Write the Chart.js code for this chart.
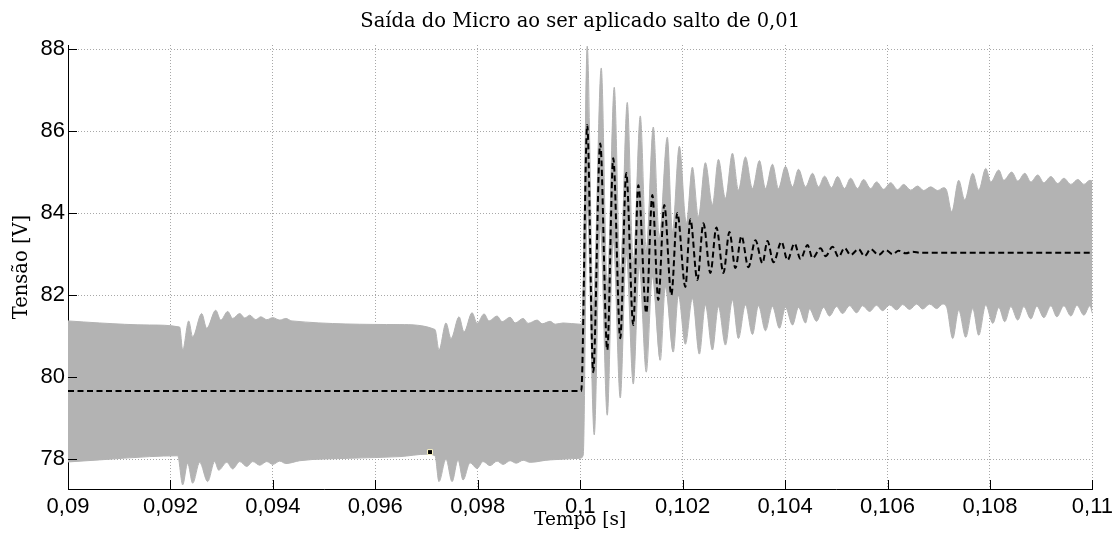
<!DOCTYPE html>
<html>
<head>
<meta charset="utf-8">
<script src="https://cdn.jsdelivr.net/npm/chart.js@4.4.0/dist/chart.umd.min.js"></script>
<style>
  html, body { margin: 0; padding: 0; background: #fff; }
  #wrap { width: 1118px; height: 543px; }
</style>
</head>
<body>
<div id="wrap"><canvas id="chart" width="1118" height="543"></canvas></div>
<script>
// Tick labels
const xTicks = [0.09, 0.092, 0.094, 0.096, 0.098, 0.1, 0.102, 0.104, 0.106, 0.108, 0.11];
const yTicks = [78, 80, 82, 84, 86, 88];

// Upper envelope of the gray band (time in s, voltage in V)
const tUpper = [
    0.09, 0.090616, 0.091593, 0.09218, 0.092239, 0.092356, 0.092434, 0.09261, 0.092708,
    0.092884, 0.092982, 0.093118, 0.093216, 0.093353, 0.093451, 0.093548, 0.093666, 0.093764,
    0.093881, 0.093998, 0.094135, 0.094252, 0.09437, 0.096481, 0.097165, 0.097243, 0.09738,
    0.097478, 0.097634, 0.097732, 0.097889, 0.097986, 0.098123, 0.098221, 0.098377, 0.098475,
    0.098631, 0.098729, 0.098886, 0.098983, 0.099159, 0.099257, 0.099413, 0.099511, 0.099668,
    0.1, 0.100039, 0.100137, 0.100254, 0.100411, 0.100528, 0.100665, 0.100782, 0.100919,
    0.101036, 0.101173, 0.10129, 0.101427, 0.101544, 0.101701, 0.101799, 0.101935, 0.102072,
    0.10219, 0.102307, 0.102444, 0.102581, 0.102698, 0.102835, 0.102972, 0.103089, 0.103226,
    0.103363, 0.103499, 0.103617, 0.103754, 0.103871, 0.104008, 0.104145, 0.104262, 0.104399,
    0.104536, 0.104653, 0.10477, 0.104907, 0.105024, 0.105161, 0.105279, 0.105415, 0.105533,
    0.10567, 0.105787, 0.105924, 0.106061, 0.106197, 0.106315, 0.106452, 0.106588, 0.106706,
    0.106843, 0.106979, 0.107097, 0.107155, 0.107253, 0.10739, 0.107507, 0.107664, 0.107781,
    0.107918, 0.108016, 0.108172, 0.10827, 0.108426, 0.108543, 0.10868, 0.108798, 0.108934,
    0.109052, 0.109189, 0.109325, 0.109443, 0.10958, 0.109716, 0.109834, 0.109951, 0.11
];
const vUpper = [
    81.37, 81.32, 81.27, 81.22, 80.66, 81.37, 80.98, 81.55, 81.19,
    81.63, 81.39, 81.60, 81.43, 81.55, 81.44, 81.51, 81.40, 81.47,
    81.40, 81.45, 81.39, 81.43, 81.37, 81.28, 81.16, 80.66, 81.32,
    80.94, 81.47, 81.10, 81.57, 81.31, 81.54, 81.37, 81.49, 81.35,
    81.46, 81.32, 81.43, 81.31, 81.39, 81.30, 81.36, 81.29, 81.32,
    81.29, 81.29, 88.07, 81.70, 87.54, 82.20, 87.07, 82.50, 86.70,
    82.80, 86.37, 83.10, 86.10, 83.40, 85.85, 83.55, 85.63, 83.75,
    85.12, 83.91, 85.23, 84.20, 85.31, 84.36, 85.46, 84.56, 85.37,
    84.60, 85.28, 84.60, 85.19, 84.60, 85.14, 84.64, 85.07, 84.64,
    84.97, 84.64, 84.90, 84.62, 84.89, 84.60, 84.85, 84.60, 84.82,
    84.60, 84.76, 84.58, 84.74, 84.57, 84.70, 84.56, 84.66, 84.55,
    84.64, 84.55, 84.62, 84.55, 84.03, 84.80, 84.32, 84.97, 84.56,
    85.09, 84.76, 85.05, 84.80, 85.00, 84.78, 84.97, 84.76, 84.93,
    84.74, 84.89, 84.72, 84.85, 84.70, 84.82, 84.70, 84.80, 84.78
];

// Lower envelope of the gray band
const tLower = [
    0.09, 0.090616, 0.091593, 0.092141, 0.092239, 0.092336, 0.092434, 0.092571, 0.092727,
    0.092864, 0.092942, 0.093099, 0.093216, 0.093353, 0.09349, 0.093607, 0.093744, 0.093881,
    0.093998, 0.094135, 0.094252, 0.094526, 0.095503, 0.096481, 0.097009, 0.097165, 0.097243,
    0.09738, 0.097498, 0.097615, 0.097713, 0.097849, 0.097986, 0.098104, 0.09824, 0.098377,
    0.098495, 0.098631, 0.098749, 0.098886, 0.099022, 0.099413, 0.1, 0.100059, 0.100137,
    0.100274, 0.100391, 0.100528, 0.100645, 0.100782, 0.100899, 0.101036, 0.101153, 0.10129,
    0.101408, 0.101564, 0.101662, 0.101818, 0.101916, 0.102053, 0.10219, 0.102326, 0.102444,
    0.102581, 0.102698, 0.102835, 0.102972, 0.103089, 0.103226, 0.103363, 0.10348, 0.103617,
    0.103754, 0.10389, 0.104008, 0.104145, 0.104262, 0.104399, 0.104477, 0.104614, 0.104751,
    0.104868, 0.105005, 0.105122, 0.105259, 0.105396, 0.105513, 0.10565, 0.105787, 0.105904,
    0.106041, 0.106178, 0.106295, 0.106432, 0.106569, 0.106686, 0.106823, 0.10696, 0.107077,
    0.107155, 0.107273, 0.10739, 0.107527, 0.107664, 0.107781, 0.107918, 0.108055, 0.108172,
    0.108289, 0.108407, 0.108543, 0.108661, 0.108798, 0.108915, 0.109052, 0.109189, 0.109306,
    0.109443, 0.10958, 0.109697, 0.109834, 0.109951, 0.11
];
const vLower = [
    77.93, 77.98, 78.06, 78.08, 77.37, 77.90, 77.41, 77.92, 77.45,
    77.94, 77.73, 77.92, 77.76, 77.94, 77.82, 77.94, 77.85, 77.94,
    77.87, 77.95, 77.89, 77.96, 78.02, 78.06, 78.12, 78.08, 77.45,
    78.00, 77.45, 77.98, 77.49, 77.91, 77.77, 77.94, 77.84, 77.95,
    77.87, 77.96, 77.90, 77.97, 77.92, 77.98, 78.02, 78.10, 84.15,
    78.59, 83.70, 79.07, 83.35, 79.49, 83.00, 79.83, 82.70, 80.12,
    82.45, 80.41, 82.20, 80.61, 82.00, 80.80, 81.92, 80.56, 81.76,
    80.66, 81.72, 80.78, 81.88, 80.94, 81.76, 81.04, 81.74, 81.13,
    81.72, 81.19, 81.70, 81.27, 81.70, 81.32, 81.66, 81.36, 81.70,
    81.49, 81.72, 81.55, 81.74, 81.57, 81.74, 81.60, 81.75, 81.62,
    81.76, 81.64, 81.77, 81.65, 81.78, 81.66, 81.78, 81.67, 81.78,
    81.70, 80.94, 81.63, 80.97, 81.67, 81.02, 81.76, 81.31, 81.70,
    81.35, 81.72, 81.39, 81.72, 81.42, 81.73, 81.45, 81.74, 81.47,
    81.74, 81.49, 81.75, 81.51, 81.74, 81.55
];

// Mean output (black dashed)
const tMean = [
    0.09, 0.10002, 0.100137, 0.100254, 0.100391, 0.100528, 0.100645, 0.100782, 0.100899, 0.101036,
    0.101134, 0.10129, 0.101408, 0.101525, 0.101642, 0.101779, 0.101896, 0.102053, 0.10215, 0.102287,
    0.102405, 0.102542, 0.102659, 0.102796, 0.102913, 0.10303, 0.103148, 0.103284, 0.103421, 0.103558,
    0.103656, 0.103773, 0.10393, 0.104047, 0.104184, 0.104301, 0.104438, 0.104536, 0.104692, 0.10479,
    0.104927, 0.105044, 0.105161, 0.105279, 0.105435, 0.105552, 0.10567, 0.105826, 0.105963, 0.1061,
    0.106217, 0.106354, 0.106491, 0.106647, 0.11
];
const vMean = [
    79.66, 79.66, 86.15, 80.12, 85.70, 80.66, 85.34, 80.95, 84.98, 81.27,
    84.68, 81.56, 84.44, 81.88, 84.20, 82.00, 84.00, 82.20, 83.85, 82.37,
    83.75, 82.54, 83.65, 82.54, 83.54, 82.66, 83.44, 82.68, 83.34, 82.78,
    83.32, 82.80, 83.30, 82.85, 83.26, 82.88, 83.22, 82.90, 83.14, 82.95,
    83.18, 82.93, 83.15, 82.98, 83.12, 82.95, 83.12, 82.98, 83.10, 83.00,
    83.08, 83.02, 83.06, 83.03, 83.03
];

// Data tip marker
const tMarker = [0.097068];
const vMarker = [78.17];

const gray = '#b3b3b3';
const serif = "'DejaVu Serif', 'Liberation Serif', serif";
const sans = "'Liberation Sans', Arial, sans-serif";

function pairs(ts, vs) {
    return ts.map((t, i) => ({ x: t, y: vs[i] }));
}

function fmtTick(v) {
    return String(Number(v.toFixed(4))).replace('.', ',');
}

// MATLAB style ticks pointing into the plot
const innerTicks = {
    id: 'innerTicks',
    afterDatasetsDraw(chart) {
        const { ctx, chartArea, scales } = chart;
        ctx.save();
        ctx.strokeStyle = '#000';
        ctx.lineWidth = 1;
        ctx.beginPath();
        xTicks.forEach(v => {
            const px = Math.round(scales.x.getPixelForValue(v)) + 0.5;
            ctx.moveTo(px, chartArea.bottom);
            ctx.lineTo(px, chartArea.bottom - 9);
        });
        yTicks.forEach(v => {
            const py = Math.round(scales.y.getPixelForValue(v)) + 0.5;
            ctx.moveTo(chartArea.left, py);
            ctx.lineTo(chartArea.left + 9, py);
        });
        ctx.stroke();
        ctx.restore();
    }
};

const ctx = document.getElementById('chart').getContext('2d');
new Chart(ctx, {
    type: 'line',
    data: {
        datasets: [{
            data: pairs(tMarker, vMarker),
            showLine: false,
            pointStyle: 'rect',
            pointRadius: 3.5,
            pointBackgroundColor: '#000',
            pointBorderColor: '#fff8c8',
            pointBorderWidth: 1
        }, {
            data: pairs(tMean, vMean),
            borderColor: '#000',
            borderWidth: 2,
            borderDash: [6, 3.5],
            pointRadius: 0,
            cubicInterpolationMode: 'monotone',
            fill: false
        }, {
            data: pairs(tUpper, vUpper),
            borderColor: gray,
            backgroundColor: gray,
            borderWidth: 1,
            pointRadius: 0,
            cubicInterpolationMode: 'monotone',
            fill: '+1'
        }, {
            data: pairs(tLower, vLower),
            borderColor: gray,
            borderWidth: 1,
            pointRadius: 0,
            cubicInterpolationMode: 'monotone',
            fill: false
        }]
    },
    options: {
        responsive: false,
        animation: false,
        devicePixelRatio: 1,
        layout: { padding: 0 },
        plugins: {
            legend: { display: false },
            tooltip: { enabled: false },
            title: {
                display: true,
                text: 'Saída do Micro ao ser aplicado salto de 0,01',
                color: '#000',
                fullSize: false,
                font: { family: serif, size: 19.5, weight: 'normal', lineHeight: 1.2 },
                padding: { top: 10, bottom: 11.6 }
            }
        },
        scales: {
            x: {
                type: 'linear',
                min: 0.09,
                max: 0.11,
                afterBuildTicks: s => { s.ticks = xTicks.map(v => ({ value: v })); },
                afterFit: s => { s.height = 54; },
                ticks: {
                    callback: v => fmtTick(v),
                    color: '#000',
                    font: { family: sans, size: 22 },
                    padding: 5,
                    maxRotation: 0,
                    autoSkip: false
                },
                grid: { color: '#a8a8a8', lineWidth: 1, drawTicks: false },
                border: { display: true, color: '#000', width: 1, dash: [1, 2] },
                title: {
                    display: true,
                    text: 'Tempo [s]',
                    color: '#000',
                    font: { family: serif, size: 18.5, weight: 'normal' },
                    padding: { top: 0, bottom: 11.5 }
                }
            },
            y: {
                type: 'linear',
                min: 77.27,
                max: 88.1,
                afterBuildTicks: s => { s.ticks = yTicks.map(v => ({ value: v })); },
                afterFit: s => { s.width = 68; },
                ticks: {
                    callback: v => String(v),
                    color: '#000',
                    font: { family: sans, size: 22 },
                    padding: 3
                },
                grid: { color: '#a8a8a8', lineWidth: 1, drawTicks: false },
                border: { display: true, color: '#000', width: 1, dash: [1, 2] },
                title: {
                    display: true,
                    text: 'Tensão [V]',
                    color: '#000',
                    font: { family: serif, size: 19.5, weight: 'normal' },
                    padding: { top: 10.3, bottom: 0 }
                }
            }
        }
    },
    plugins: [innerTicks]
});
</script>
</body>
</html>
